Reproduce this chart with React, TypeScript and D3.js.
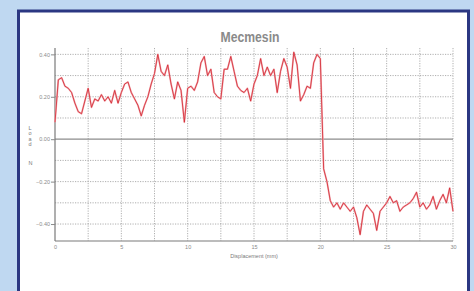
// @ts-nocheck
import React from 'react'
import * as d3 from 'd3'

// load (N) sampled every 0.25 mm of displacement, 0..30 mm
const STEP = 0.25
const load = [
  0.08, 0.28, 0.29, 0.25, 0.24, 0.22, 0.17, 0.13, 0.12, 0.18,
  0.24, 0.15, 0.19, 0.18, 0.21, 0.18, 0.2, 0.17, 0.23, 0.17,
  0.22, 0.26, 0.27, 0.22, 0.19, 0.16, 0.11, 0.16, 0.2, 0.26,
  0.31, 0.4, 0.32, 0.3, 0.35, 0.26, 0.19, 0.27, 0.23, 0.08,
  0.24, 0.25, 0.23, 0.27, 0.36, 0.39, 0.3, 0.33, 0.22, 0.2,
  0.19, 0.33, 0.33, 0.39, 0.32, 0.25, 0.23, 0.22, 0.24, 0.18,
  0.26, 0.3, 0.38, 0.3, 0.34, 0.3, 0.33, 0.22, 0.32, 0.38,
  0.34, 0.24, 0.41, 0.35, 0.18, 0.21, 0.25, 0.24, 0.36, 0.4,
  0.38, -0.14, -0.2, -0.29, -0.32, -0.3, -0.33, -0.3, -0.32, -0.34,
  -0.32, -0.37, -0.45, -0.34, -0.31, -0.33, -0.35, -0.43, -0.34, -0.32,
  -0.3, -0.27, -0.3, -0.29, -0.34, -0.32, -0.31, -0.3, -0.28, -0.25,
  -0.32, -0.3, -0.33, -0.31, -0.27, -0.33, -0.29, -0.26, -0.3, -0.23,
  -0.34,
]
const xTicks = [0, 5, 10, 15, 20, 25, 30]
const xGrid = [2.5, 5, 7.5, 10, 12.5, 15, 17.5, 20, 22.5, 25, 27.5, 30]
const yTicks = [0.4, 0.2, 0, -0.2, -0.4]
const yGrid = [0.4, 0.3, 0.2, 0.1, -0.1, -0.2, -0.3, -0.4]
const yLabelChars = ['L', 'o', 'a', 'd']

const W = 474
const H = 291
const plot = { left: 55, right: 453, top: 48, bottom: 241 }
const font = 'Arial, "Liberation Sans", sans-serif'

const App = () => {
  const svgRef = React.useRef(null)

  React.useEffect(() => {
    const x = d3.scaleLinear().domain([0, 30]).range([plot.left, plot.right])
    const y = d3.scaleLinear().domain([-0.48, 0.43]).range([plot.bottom, plot.top])

    const svgEl = d3.select(svgRef.current)
    svgEl.selectAll('*').remove()

    // page background + framed panel
    svgEl.append('rect').attr('width', W).attr('height', H).attr('fill', '#bfd8f1')
    svgEl
      .append('rect')
      .attr('x', 18.5)
      .attr('y', 11)
      .attr('width', 450)
      .attr('height', 300)
      .attr('fill', '#fff')
      .attr('stroke', '#2b3782')
      .attr('stroke-width', 3)

    // title
    svgEl
      .append('text')
      .attr('x', 250)
      .attr('y', 42)
      .attr('text-anchor', 'middle')
      .attr('font-family', '"Liberation Sans Narrow", "Arial Narrow", sans-serif')
      .attr('font-weight', 'bold')
      .attr('font-size', 15)
      .attr('fill', '#8a8a8a')
      .attr('textLength', 59)
      .attr('lengthAdjust', 'spacingAndGlyphs')
      .text('Mecmesin')

    const g = svgEl.append('g')

    // horizontal dotted grid
    g.selectAll('.hgrid')
      .data(yGrid)
      .enter()
      .append('line')
      .attr('x1', plot.left)
      .attr('x2', plot.right)
      .attr('y1', (d) => y(d))
      .attr('y2', (d) => y(d))
      .attr('stroke', '#9a9a9a')
      .attr('stroke-width', 0.8)
      .attr('stroke-dasharray', '1.2,1.3')

    // vertical dotted grid
    g.selectAll('.vgrid')
      .data(xGrid)
      .enter()
      .append('line')
      .attr('x1', (d) => x(d))
      .attr('x2', (d) => x(d))
      .attr('y1', plot.top)
      .attr('y2', plot.bottom)
      .attr('stroke', '#9a9a9a')
      .attr('stroke-width', 0.8)
      .attr('stroke-dasharray', '1.2,1.3')

    // zero line
    g.append('line')
      .attr('x1', plot.left)
      .attr('x2', plot.right)
      .attr('y1', y(0))
      .attr('y2', y(0))
      .attr('stroke', '#8c8c8c')
      .attr('stroke-width', 1.3)

    // axes
    const yAxis = d3
      .axisLeft(y)
      .tickValues(yTicks)
      .tickSize(4)
      .tickPadding(1)
      .tickFormat(d3.format('.2f'))
    const yAxisGroup = g.append('g').attr('transform', `translate(${plot.left},0)`).call(yAxis)
    yAxisGroup.select('.domain').attr('stroke', '#7a7a7a').attr('stroke-width', 1.2)
      .attr('d', `M0,${plot.top}V${plot.bottom}`)
    yAxisGroup.selectAll('line').attr('stroke', '#8a8a8a')
    yAxisGroup.selectAll('text').attr('fill', '#8a8a8a').attr('font-family', font).attr('font-size', 5.5)

    const xAxis = d3.axisBottom(x).tickValues(xTicks).tickSize(0).tickPadding(4).tickFormat(d3.format('d'))
    const xAxisGroup = g.append('g').attr('transform', `translate(0,${plot.bottom})`).call(xAxis)
    xAxisGroup.select('.domain').attr('stroke', '#7a7a7a').attr('stroke-width', 1.2)
      .attr('d', `M${plot.left},0H${plot.right}`)
    xAxisGroup.selectAll('text').attr('fill', '#8a8a8a').attr('font-family', font).attr('font-size', 5.5)

    // axis titles
    g.append('text')
      .attr('x', 254)
      .attr('y', 258)
      .attr('text-anchor', 'middle')
      .attr('font-family', font)
      .attr('font-size', 5.5)
      .attr('fill', '#7a7a7a')
      .text('Displacement (mm)')

    g.selectAll('.ylab')
      .data(yLabelChars)
      .enter()
      .append('text')
      .attr('x', 30)
      .attr('y', (d, i) => 130 + i * 5.4)
      .attr('text-anchor', 'middle')
      .attr('font-family', font)
      .attr('font-size', 5.5)
      .attr('fill', '#7a7a7a')
      .text((d) => d)
    g.append('text')
      .attr('x', 30.5)
      .attr('y', 165)
      .attr('text-anchor', 'middle')
      .attr('font-family', font)
      .attr('font-size', 5.5)
      .attr('fill', '#7a7a7a')
      .text('N')

    // load trace
    const line = d3
      .line()
      .x((d, i) => x(i * STEP))
      .y((d) => y(d))
    g.append('path')
      .attr('d', line(load))
      .attr('fill', 'none')
      .attr('stroke', '#f2b0b6')
      .attr('stroke-width', 1.8)
      .attr('stroke-linejoin', 'round')
    g.append('path')
      .attr('d', line(load))
      .attr('fill', 'none')
      .attr('stroke', '#d3242e')
      .attr('stroke-width', 0.8)
      .attr('stroke-linejoin', 'round')
  }, [])

  return (
    <svg
      ref={svgRef}
      width={W}
      height={H}
      style={{ position: 'absolute', left: 0, top: 0 }}
    />
  )
}

export default App
